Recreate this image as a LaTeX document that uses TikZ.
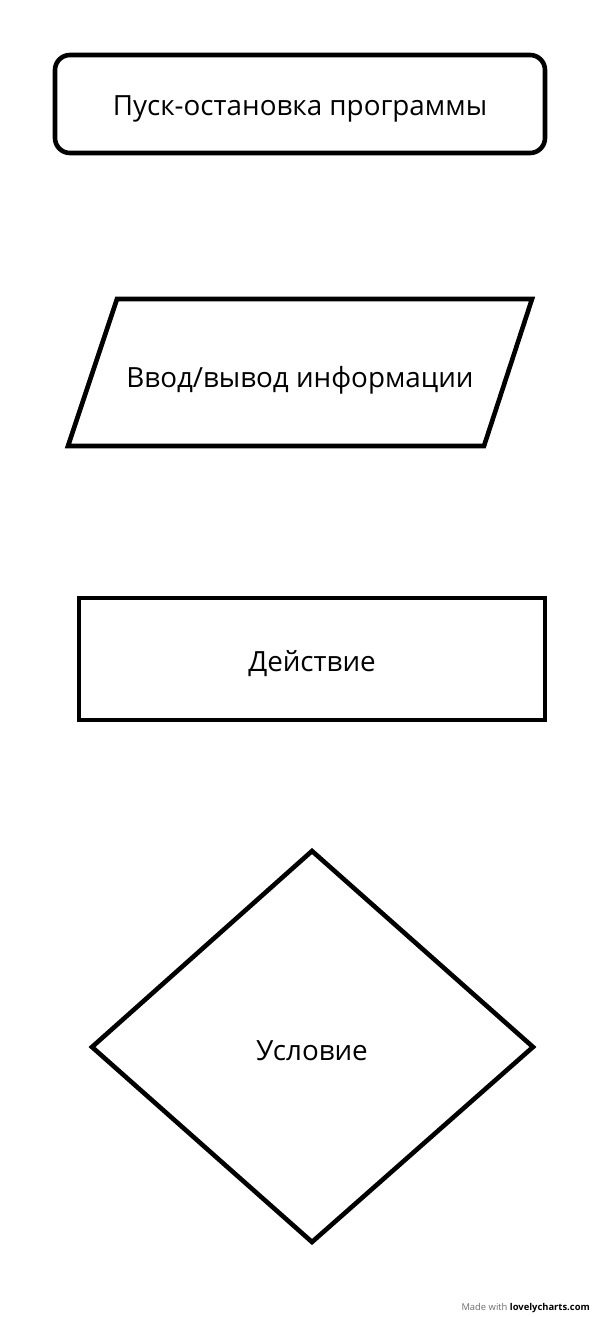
\documentclass[tikz,border=0pt]{standalone}
\usepackage{fontspec}
\setmainfont{Open Sans}
\definecolor{lcgray}{RGB}{110,110,110}
\tikzset{
	outline/.style={draw=black, line width=4.6pt},
	label/.style={font=\fontsize{27.8}{32}\selectfont, text=black, inner sep=0pt},
	credit/.style={font=\fontsize{9.4}{11}\selectfont, anchor=east, inner sep=0pt}
}
\begin{document}
\begin{tikzpicture}[x=1pt,y=-1pt]
	
	\useasboundingbox[fill=white] (0,0) rectangle (600,1317);
	
	% start / stop
	\draw[outline, rounded corners=15pt] (55,55) rectangle (545,153);
	\node[label] (start) at (300,109) {Пуск-остановка программы};
	
	% input / output
	\draw[outline] (117,299) -- (532,299) -- (484,446) -- (68,446) -- cycle;
	\node[label] (io) at (300,380) {Ввод/вывод информации};
	
	% process
	\draw[outline] (79,598) rectangle (545,720);
	\node[label] (action) at (312,664) {Действие};
	
	% decision
	\draw[outline] (312,851) -- (533,1047) -- (312,1242) -- (92,1047) -- cycle;
	\node[label] (cond) at (312,1051) {Условие};
	
	\node[credit] (made) at (590,1308) {\textcolor{lcgray}{Made with} \textbf{lovelycharts.com}};
	
\end{tikzpicture}
\end{document}
